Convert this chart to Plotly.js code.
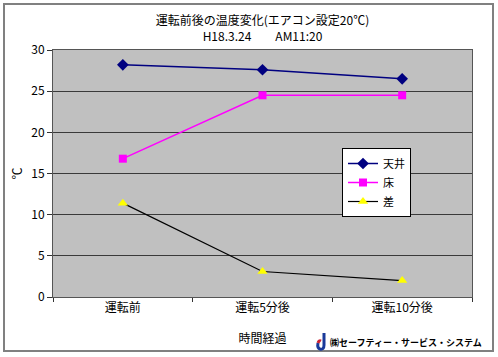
<!DOCTYPE html>
<html>
<head>
<meta charset="utf-8">
<script src="https://cdn.plot.ly/plotly-3.0.1.min.js"></script>
<style>html,body{margin:0;padding:0;background:#fff;}#chart{width:498px;height:357px;}</style>
</head>
<body>
<div id="chart"></div>
<script>
const categories = ['運転前', '運転5分後', '運転10分後'];
const ceiling = [28.2, 27.6, 26.5];
const floorTemp = [16.8, 24.5, 24.5];
const diff = [11.4, 3.1, 2.0];
const seriesNames = ['天井', '床', '差'];
const yTicks = [0, 5, 10, 15, 20, 25, 30];

const W = 498, H = 357, ML = 53, MR = 26, MT = 50, MB = 60;
const PW = W - ML - MR, PH = H - MT - MB;
const px = x => (x - ML) / PW;
const py = y => (H - MB - y) / PH;

const FONT = '"Noto Sans CJK JP", "DejaVu Sans", sans-serif';

const traces = [
  {x: categories, y: ceiling, name: seriesNames[0], type: 'scatter', mode: 'lines+markers',
   line: {color: '#000080', width: 1.5}, marker: {symbol: 'diamond', size: 9, color: '#000080'}},
  {x: categories, y: floorTemp, name: seriesNames[1], type: 'scatter', mode: 'lines+markers',
   line: {color: '#FF00FF', width: 1.5}, marker: {symbol: 'square', size: 8, color: '#FF00FF'}},
  {x: categories, y: diff, name: seriesNames[2], type: 'scatter', mode: 'lines+markers',
   line: {color: '#000000', width: 1.2}, marker: {symbol: 'triangle-up', size: 9, color: '#FFFF00'}}
];

const layout = {
  width: W, height: H,
  margin: {l: ML, r: MR, t: MT, b: MB},
  paper_bgcolor: '#ffffff',
  plot_bgcolor: '#C0C0C0',
  font: {family: FONT, size: 12, color: '#000'},
  showlegend: true,
  legend: {x: px(342), y: py(148), xanchor: 'left', yanchor: 'top',
    bgcolor: '#ffffff', bordercolor: '#000', borderwidth: 1,
    font: {family: FONT, size: 11, color: '#000'}, tracegroupgap: 0, itemwidth: 30},
  title: {text: '運転前後の温度変化(エアコン設定20℃)<br>H18.3.24　　AM11:20',
    x: 0.5, xref: 'paper', y: 1 - 25 / H, yanchor: 'middle',
    font: {family: FONT, size: 12, color: '#000'}},
  xaxis: {
    type: 'category', range: [-0.5, 2.5],
    showline: true, linecolor: '#555', linewidth: 1, mirror: true,
    ticks: 'outside', tickson: 'boundaries', ticklen: 4, tickcolor: '#333',
    showgrid: false, zeroline: false,
    tickfont: {family: FONT, size: 12, color: '#000'},
    title: {text: '時間経過', font: {family: FONT, size: 12, color: '#000'}, standoff: 20}
  },
  yaxis: {
    range: [0, 30], tickvals: yTicks, ticktext: yTicks.map(String),
    showline: true, linecolor: '#555', linewidth: 1, mirror: true,
    ticks: 'outside', ticklen: 5, tickcolor: '#333',
    showgrid: true, gridcolor: '#3a3a3a', gridwidth: 1, zeroline: false,
    tickfont: {family: FONT, size: 12, color: '#000'},
    title: {text: '℃', font: {family: FONT, size: 12, color: '#000'}, standoff: 6}
  },
  shapes: [
    {type: 'rect', xref: 'paper', yref: 'paper', x0: px(4), x1: px(493), y0: py(4), y1: py(351),
     line: {color: '#808080', width: 2}, fillcolor: 'rgba(0,0,0,0)', layer: 'below'},
    {type: 'path', xref: 'paper', yref: 'paper',
     path: `M ${px(324)} ${py(333)} L ${px(324)} ${py(345)} Q ${px(324)} ${py(350)} ${px(320)} ${py(349)} Q ${px(317)} ${py(348)} ${px(318)} ${py(343)}`,
     line: {color: '#1a3a9a', width: 3}},
    {type: 'path', xref: 'paper', yref: 'paper',
     path: `M ${px(318)} ${py(343)} Q ${px(319)} ${py(340)} ${px(321)} ${py(341)}`,
     line: {color: '#cc2233', width: 3}}
  ],
  annotations: [
    {text: '<b>㈱</b><b>セーフティー・サービス・システム</b>', xref: 'paper', yref: 'paper',
     x: px(328), y: py(342), xanchor: 'left', yanchor: 'middle', showarrow: false,
     font: {family: FONT, size: 9, color: '#000'}}
  ]
};

Plotly.newPlot('chart', traces, layout, {displayModeBar: false, staticPlot: true});
</script>
</body>
</html>
